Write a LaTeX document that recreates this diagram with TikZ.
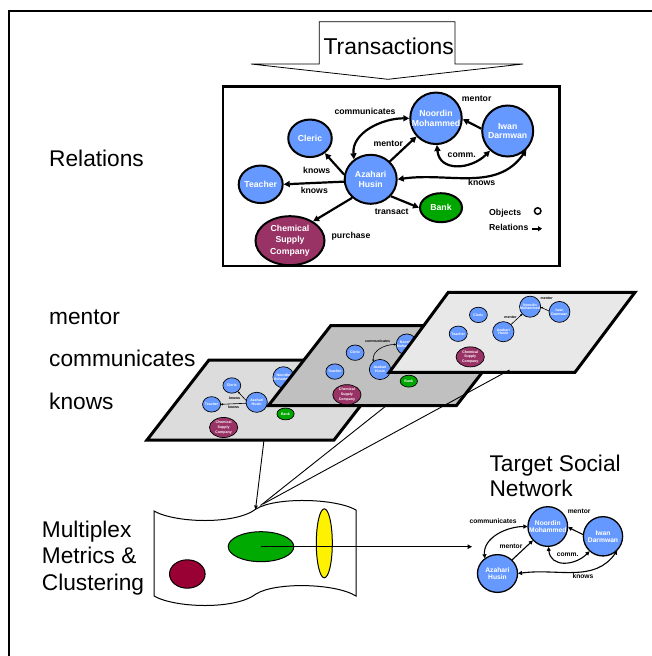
\documentclass[tikz,border=0pt]{standalone}
\usepackage{fontspec}
\setmainfont{Liberation Sans}
\usetikzlibrary{arrows.meta,shapes.geometric}
\definecolor{nodeblue}{HTML}{6699FF}
\definecolor{bankgreen}{HTML}{00A600}
\definecolor{chemred}{HTML}{993366}
\definecolor{darkred}{HTML}{990033}
\definecolor{sheetgreen}{HTML}{00AA00}
\definecolor{layerA}{HTML}{DCDCDC}
\definecolor{layerB}{HTML}{C0C0C0}
\definecolor{layerC}{HTML}{E8E8E8}
\newcommand\gnlw{2pt}
\newcommand\gelw{2.2pt}
\newcommand\gfont{\bfseries\fontsize{8.7}{9.3}\selectfont}
\tikzset{
  gnode/.style={ellipse, draw=black, line width=\gnlw, fill=nodeblue, text=white, inner sep=0pt, align=center, font=\gfont},
  glabel/.style={font=\gfont, inner sep=0pt, text=black},
  gedge/.style={draw=black, line width=\gelw},
  bigtext/.style={font=\fontsize{22.7}{26.5}\selectfont, inner sep=0pt, align=left},
  layer/.style={draw=black, line width=3pt, line join=miter},
  thinline/.style={draw=black, line width=0.9pt},
}
\newcommand\gAz{\node[gnode,minimum width=52,minimum height=49] (az) at (0,0) {Azahari\\Husin};}
\newcommand\gNoordin{\node[gnode,circle,minimum size=51.5] (noordin) at (65.3,61) {Noordin\\Mohammed};}
\newcommand\gIwan{\node[gnode,circle,minimum size=51] (iwan) at (137,48.3) {Iwan\\Darmwan};}
\newcommand\gCleric{\node[gnode,minimum width=43.5,minimum height=37.5] (cleric) at (-60.7,41) {Cleric};}
\newcommand\gTeacher{\node[gnode,inner xsep=-1.5pt,minimum width=44,minimum height=37.5] (teacher) at (-110,-5) {Teacher};}
\newcommand\gBank{\node[gnode,fill=bankgreen,minimum width=42,minimum height=29] (bank) at (70.3,-28.4) {Bank};}
\newcommand\gChem{\node[gnode,fill=chemred,minimum width=69,minimum height=49] (chem) at (-80.7,-61.4) {Chemical\\[2pt]Supply\\[2pt]Company};}
\begin{document}
\begin{tikzpicture}[x=1pt,y=1pt]
\useasboundingbox (0,0) rectangle (652,-656);
% outer frame
\draw[line width=2pt] (9,-656) -- (9,-11) -- (652,-11);
% Transactions arrow
\draw[line width=0.8pt, line join=miter] (319.3,-21.7) -- (455,-21.7) -- (455,-64) -- (523,-64) -- (388,-79.3) -- (251,-64) -- (319.3,-64) -- cycle;
\node[font=\fontsize{22.9}{26}\selectfont, inner sep=0pt, anchor=base] (trans) at (388.7,-54.5) {Transactions};
% Relations box
\draw[line width=2.5pt] (223,-86.5) rectangle (559.5,-266);
\begin{scope}[shift={(370.7,-179.3)}, name prefix=M-, >={Triangle[length=6pt,width=6pt]}]
\gNoordin \gIwan \gCleric \gTeacher \gAz \gBank \gChem
\draw[gedge,->] (az.170) -- (cleric.-45);
\draw[gedge,->] (az.185) -- (teacher.east);
\draw[gedge,->] (az.-135) -- (chem.40);
\draw[gedge,->] (az.-40) -- (bank.west);
\draw[gedge,->] (az) -- (noordin);
\draw[gedge,->] (iwan.175) -- (noordin.-2);
\draw[gedge,<->] (az.130) to[out=95,in=180] (noordin.west);
\draw[gedge,<->] (noordin.-88) to[out=-85,in=-135,looseness=1.3] (iwan.-132);
\draw[gedge,<->] (iwan.-45) to[out=-125,in=8] (az.east);
\node[glabel] (lcomm) at (-5.7,68.3) {communicates};
\node[glabel] (lment1) at (106,81) {mentor};
\node[glabel] (lment2) at (17.6,35.3) {mentor};
\node[glabel] (lcm) at (91,24.3) {comm.};
\node[glabel] (lk1) at (-54,9.3) {knows};
\node[glabel] (lk2) at (-56.4,-11.4) {knows};
\node[glabel] (lk3) at (111,-3.4) {knows};
\node[glabel] (ltr) at (21,-32.4) {transact};
\node[glabel] (lpu) at (-19.7,-56.7) {purchase};
\end{scope}
% legend
\node[glabel, anchor=west] (objlbl) at (489,-213.3) {Objects};
\node[circle, draw=black, line width=1.5pt, minimum size=6.5pt, inner sep=0pt] (objsym) at (537.7,-211) {};
\node[glabel, anchor=west] (rellbl) at (489,-227.3) {Relations};
\coordinate (relA) at (531.7,-228.7);
\coordinate (relB) at (542,-228.7);
\draw[line width=1.8pt, -{Triangle[length=4pt,width=5pt]}] (relA) -- (relB);
% left labels
\node[bigtext, anchor=base west] (relations) at (49,-166) {Relations};
\node[bigtext, anchor=base west] (lmentor) at (49,-324) {mentor};
\node[bigtext, anchor=base west] (lcommunicates) at (49,-366) {communicates};
\node[bigtext, anchor=base west] (lknows) at (49,-409.6) {knows};
% layer 1 : knows
\draw[layer, fill=layerA] (147,-440) -- (334,-440) -- (396,-360) -- (209,-360) -- cycle;
\begin{scope}[shift={(256.7,-402.3)}, scale=0.41, transform shape, name prefix=L1-, >={Triangle[length=2pt,width=2pt]}]
\renewcommand\gnlw{0.7pt}\renewcommand\gelw{0.6pt}
\gNoordin \gCleric \gTeacher \gAz \gBank \gChem
\draw[gedge,->] (az.170) -- (cleric.-45);
\draw[gedge,->] (az.185) -- (teacher.east);
\node[glabel] (lk1) at (-54,9.3) {knows};
\node[glabel] (lk2) at (-56.4,-11.4) {knows};
\end{scope}
% layer 2 : communicates
\draw[layer, fill=layerB] (268.5,-405.5) -- (456.5,-405.5) -- (518.5,-325.7) -- (330.7,-325.7) -- cycle;
\begin{scope}[shift={(380,-369.5)}, scale=0.41, transform shape, name prefix=L2-, >={Triangle[length=2pt,width=2pt]}]
\renewcommand\gnlw{0.7pt}\renewcommand\gelw{0.6pt}
\gNoordin \gCleric \gTeacher \gAz \gBank \gChem
\draw[gedge,<->] (az.130) to[out=95,in=180] (noordin.west);
\node[glabel] (lcomm) at (-5.7,68.3) {communicates};
\end{scope}
% layer 3 : mentor
\draw[layer, fill=layerC] (389.3,-372.3) -- (575,-372.3) -- (635,-292.3) -- (448.3,-292.3) -- cycle;
\begin{scope}[shift={(503.3,-331.7)}, scale=0.41, transform shape, name prefix=L3-, >={Triangle[length=2pt,width=2pt]}]
\renewcommand\gnlw{0.7pt}\renewcommand\gelw{0.6pt}
\gNoordin \gIwan \gCleric \gTeacher \gAz \gChem
\draw[gedge,->] (az) -- (noordin);
\draw[gedge,->] (iwan.175) -- (noordin.-2);
\node[glabel] (lment1) at (106,81) {mentor};
\node[glabel] (lment2) at (17.6,35.3) {mentor};
\end{scope}
% multiplex sheet
\draw[line width=1pt, fill=white] (154,-511) .. controls (175,-523) and (235,-525) .. (256,-509) .. controls (275,-497) and (335,-498) .. (356,-510) -- (356,-596) .. controls (335,-583) and (275,-582) .. (256,-594) .. controls (235,-610) and (175,-608) .. (154,-596) -- cycle;
\node[ellipse, draw=black, line width=1pt, fill=darkred, minimum width=35.6, minimum height=28.4, inner sep=0pt] (clA) at (187.3,-574) {};
\node[ellipse, draw=black, line width=1pt, fill=sheetgreen, minimum width=65.6, minimum height=30, inner sep=0pt] (clB) at (261,-546.7) {};
\node[ellipse, draw=black, line width=1pt, fill=yellow, minimum width=16, minimum height=69, inner sep=0pt] (clC) at (324.3,-543.3) {};
\node[bigtext, anchor=base west] (multiplex) at (41.7,-590) {Multiplex\\Metrics \&\\Clustering};
% connectors from layers
\coordinate (l1out) at (264,-440);
\coordinate (l2out) at (386.5,-405.5);
\coordinate (l3out) at (509.5,-370);
\coordinate (cuspA) at (255.5,-509.5);
\coordinate (cuspB) at (260.5,-505.5);
\coordinate (cuspC) at (263,-504);
\draw[thinline, -{Triangle[length=4pt,width=3.5pt]}] (l1out) -- (cuspA);
\draw[thinline] (l2out) -- (cuspB);
\draw[thinline] (l3out) -- (cuspC);
% to target
\coordinate (tgt) at (472,-546.7);
\draw[line width=1pt, -{Triangle[length=4.5pt,width=4.5pt]}] (clB.center) -- (tgt);
% Target social network
\node[font=\fontsize{22.7}{25}\selectfont, inner sep=0pt, align=left, anchor=base west] (target) at (489.3,-496) {Target Social\\Network};
\begin{scope}[shift={(497.5,-573.5)}, scale=0.77, transform shape, name prefix=T-, >={Triangle[length=4pt,width=4pt]}]
\renewcommand\gnlw{1.3pt}\renewcommand\gelw{1.1pt}
\gNoordin \gIwan \gAz
\draw[gedge,->] (az) -- (noordin);
\draw[gedge,->] (iwan.175) -- (noordin.-2);
\draw[gedge,<->] (az.130) to[out=95,in=180] (noordin.west);
\draw[gedge,<->] (noordin.-88) to[out=-85,in=-135,looseness=1.3] (iwan.-132);
\draw[gedge,<->] (iwan.-45) to[out=-125,in=8] (az.east);
\node[glabel] (lcomm) at (-5.7,68.3) {communicates};
\node[glabel] (lment1) at (106,81) {mentor};
\node[glabel] (lment2) at (17.6,35.3) {mentor};
\node[glabel] (lcm) at (91,24.3) {comm.};
\node[glabel] (lk3) at (111,-3.4) {knows};
\end{scope}
\end{tikzpicture}
\end{document}
